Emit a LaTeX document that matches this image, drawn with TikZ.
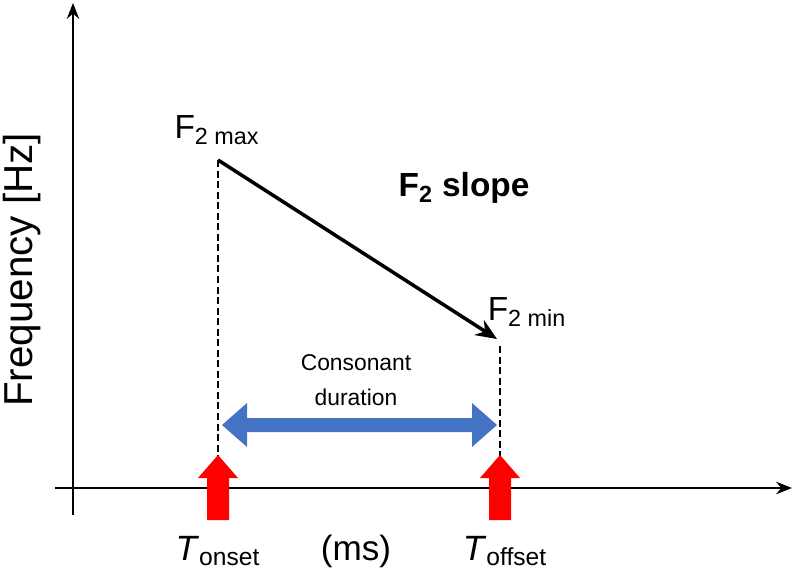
\documentclass[tikz,border=0pt]{standalone}
\usepackage{fontspec}
\setmainfont{Liberation Sans}
\usetikzlibrary{arrows.meta}
\begin{document}
\begin{tikzpicture}[x=0.02cm,y=-0.02cm,
    axis/.style={line width=1.3pt,-{Stealth[length=9pt,width=7pt]}},
    guide/.style={dash pattern=on 4pt off 2pt,line width=1.1pt},
    lbl/.style={font=\fontsize{20}{24}\selectfont,inner sep=0pt}]
    \useasboundingbox (0,0) rectangle (800,577);
    % axes
    \coordinate (o) at (73,515);
    \coordinate (ytop) at (73,3);
    \coordinate (xl) at (55,488);
    \coordinate (xr) at (792,488);
    \draw[axis] (o) -- (ytop);
    \draw[axis] (xl) -- (xr);
    % slope
    \coordinate (fmax) at (218,160);
    \coordinate (fmin) at (497,339);
    \coordinate (dmax) at (218,480);
    \coordinate (tmin) at (500,346);
    \coordinate (dmin) at (500,480);
    \draw[line width=2pt,-{Stealth[length=12pt,width=10pt]}] (fmax) -- (fmin);
    \draw[guide] (fmax) -- (dmax);
    \draw[guide] (tmin) -- (dmin);
    % duration arrow
    \fill[fill={rgb,255:red,68;green,114;blue,196}]
        (222,425) -- (247,403) -- (247,418) -- (472,418) -- (472,403)
        -- (497,425) -- (472,447) -- (472,432) -- (247,432) -- (247,447) -- cycle;
    % time markers
    \foreach \t in {218,500}{
        \fill[red] (\t-11,520) -- (\t-11,478) -- (\t-20,478) -- (\t,455)
            -- (\t+20,478) -- (\t+11,478) -- (\t+11,520) -- cycle;
    }
    % labels
    \node[lbl,font=\fontsize{23}{26}\selectfont,rotate=90] (freq) at (22,270) {Frequency [Hz]};
    \node[lbl,font=\fontsize{19}{22}\selectfont] (lmax) at (217,130) {F\textsubscript{2 max}};
    \node[lbl,font=\fontsize{19}{22}\selectfont] (lmin) at (527,312) {F\textsubscript{2 min}};
    \node[lbl,font=\bfseries\fontsize{19}{22}\selectfont] (slope) at (464,188) {F\textsubscript{2} slope};
    \node[lbl,font=\fontsize{13}{20}\selectfont,align=center] (dur) at (356,380) {Consonant\\duration};
    \node[lbl] (ton) at (218,551) {\textit{T}\textsubscript{onset}};
    \node[lbl] (ms) at (356,551) {(ms)};
    \node[lbl] (toff) at (505,551) {\textit{T}\textsubscript{offset}};
\end{tikzpicture}
\end{document}
